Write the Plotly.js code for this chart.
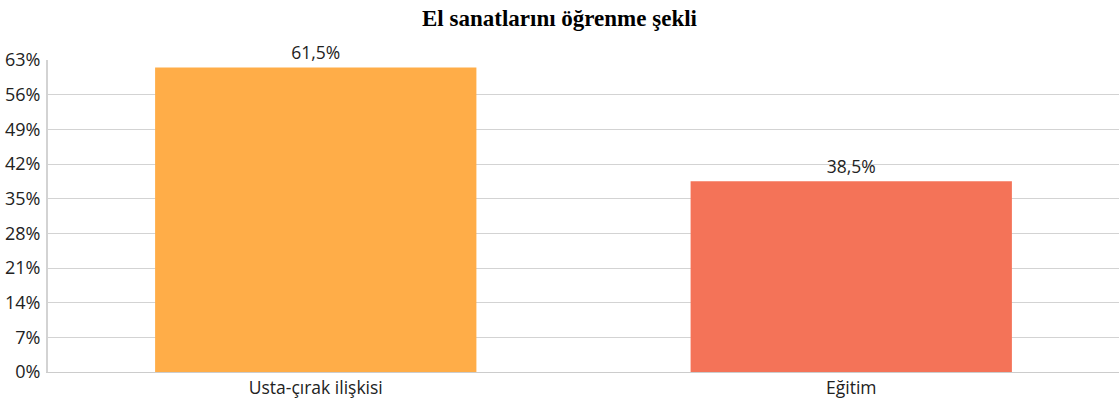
<!DOCTYPE html>
<html>
<head>
<meta charset="utf-8">
<script src="https://cdn.plot.ly/plotly-3.0.1.min.js"></script>
<style>html,body{margin:0;padding:0;background:#fff;}#chart{width:1119px;height:402px;}</style>
</head>
<body>
<div id="chart"></div>
<script>
const categories = ["Usta-çırak ilişkisi", "Eğitim"];
const values = [61.5, 38.5];
const barColors = ["#FFAD48", "#F47358"];
const yTickValues = [0, 7, 14, 21, 28, 35, 42, 49, 56, 63];

const trace = {
  type: "bar",
  x: categories,
  y: values,
  width: 0.6,
  marker: {color: barColors},
  text: values.map(v => v.toFixed(1).replace(".", ",") + "%"),
  textposition: "outside",
  cliponaxis: false,
  textfont: {family: "Open Sans, Noto Sans, sans-serif", size: 17.5, color: "#222"},
  hoverinfo: "none"
};

const layout = {
  width: 1119,
  height: 402,
  margin: {l: 48, r: 0, t: 60, b: 30},
  paper_bgcolor: "#fff",
  plot_bgcolor: "#fff",
  showlegend: false,
  bargap: 0.4,
  title: {
    text: "<b>El sanatlarını öğrenme şekli</b>",
    font: {family: "Liberation Serif, Times New Roman, serif", size: 23, color: "#000"},
    x: 0.5, xanchor: "center", y: 0.955, yanchor: "middle"
  },
  xaxis: {
    type: "category",
    showgrid: false,
    showline: true,
    linecolor: "#ccc",
    linewidth: 1,
    ticks: "",
    tickfont: {family: "Open Sans, Noto Sans, sans-serif", size: 17.5, color: "#222"},
    fixedrange: true
  },
  yaxis: {
    range: [0, 63],
    tickvals: yTickValues,
    ticktext: yTickValues.map(v => v + "%"),
    showgrid: true,
    gridcolor: "#d3d3d3",
    gridwidth: 1,
    showline: true,
    linecolor: "#d3d3d3",
    linewidth: 2,
    zeroline: false,
    ticks: "",
    ticklabelstandoff: 2,
    tickfont: {family: "Open Sans, Noto Sans, sans-serif", size: 18, color: "#222"},
    fixedrange: true
  }
};

Plotly.newPlot("chart", [trace], layout, {displayModeBar: false, staticPlot: true});
</script>
</body>
</html>
